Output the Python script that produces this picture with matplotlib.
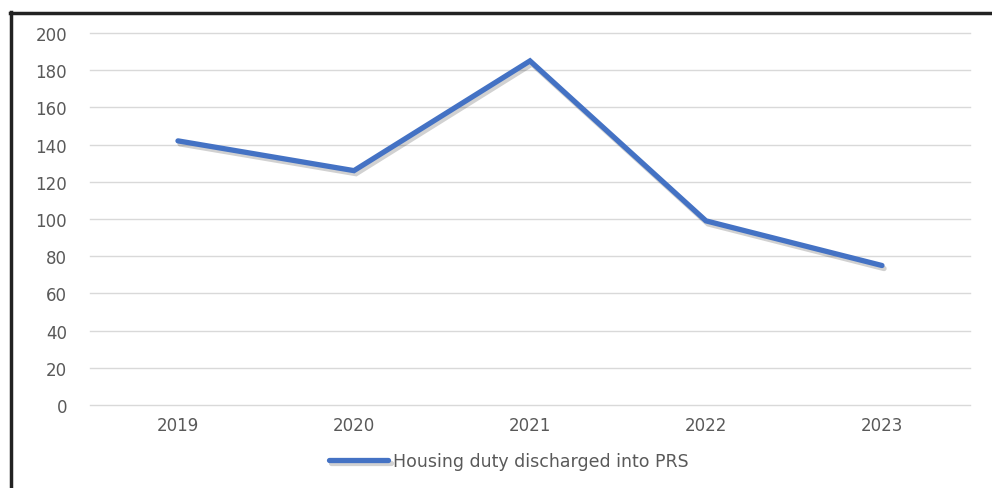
import matplotlib.pyplot as plt
import matplotlib.patheffects as pe
from matplotlib.lines import Line2D

years = ['2019', '2020', '2021', '2022', '2023']
discharged = [142, 126, 185, 99, 75]
yticks = [0, 20, 40, 60, 80, 100, 120, 140, 160, 180, 200]

grey = '#595959'
blue = '#4472C4'

fig = plt.figure(figsize=(9.92, 4.89), dpi=100)
ax = fig.add_axes([0.0907, 0.1697, 0.8871, 0.7608])

x = range(len(years))
ax.plot(x, discharged, color=blue, lw=3.8, solid_joinstyle='miter',
        solid_capstyle='round', label='Housing duty discharged into PRS',
        path_effects=[pe.SimpleLineShadow(offset=(1.5, -2.2), shadow_color='#000000',
                                          alpha=0.18), pe.Normal()])

ax.set_xlim(-0.5, len(years) - 0.5)
ax.set_ylim(0, 200)
ax.set_yticks(yticks)
ax.set_xticks(list(x))
ax.set_xticklabels(years)
ax.grid(axis='y', color='#d9d9d9', lw=1)
for gl in ax.get_ygridlines():
    gl.set_clip_on(False)
ax.set_axisbelow(True)
for s in ax.spines.values():
    s.set_visible(False)
ax.tick_params(length=0, colors=grey, labelsize=12)
ax.tick_params(axis='y', pad=16.5)
ax.tick_params(axis='x', pad=8)

leg = fig.legend(loc='center', bbox_to_anchor=(0.513, 0.055), frameon=False,
                 handlelength=3.4, handletextpad=0.25, fontsize=12.5)
for t in leg.get_texts():
    t.set_color(grey)

# dark frame on the left and top edges
fig.add_artist(Line2D([0.011, 0.011], [0, 0.973], color='#222222', lw=2.5,
                      transform=fig.transFigure))
fig.add_artist(Line2D([0.010, 1.0], [0.972, 0.972], color='#222222', lw=2.5,
                      transform=fig.transFigure))

fig.savefig('out.png', dpi=100, facecolor='white')
